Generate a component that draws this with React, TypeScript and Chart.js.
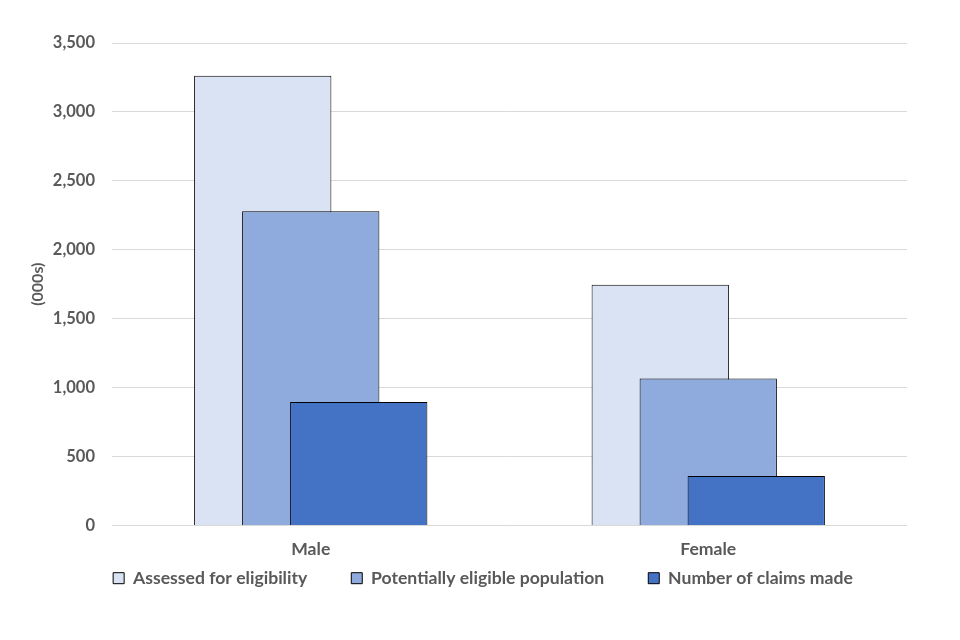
import React, { useEffect, useRef } from "react";
import { Chart, registerables } from "chart.js";

Chart.register(...registerables);

const categories = ["Male", "Female"];
const seriesNames = [
  "Assessed for eligibility",
  "Potentially eligible population",
  "Number of claims made",
];
const assessed = [3263, 1746];
const potentiallyEligible = [2280, 1065];
const claimsMade = [896, 359];
const seriesColors = ["#DAE3F3", "#8FAADC", "#4472C4"];
const yTicks = [0, 500, 1000, 1500, 2000, 2500, 3000, 3500];

const FONT = "Lato, 'Liberation Sans', sans-serif";
const TEXT = "#595959";

const drawOrderPlugin = {
  id: "drawOrder",
  beforeDatasetsDraw(chart: any) {
    const metas = chart.getSortedVisibleDatasetMetas();
    for (const m of metas) chart._drawDataset(m);
    return false;
  },
};

export default function App() {
  const ref = useRef<HTMLCanvasElement | null>(null);
  useEffect(() => {
    if (!ref.current) return;
    const values = [assessed, potentiallyEligible, claimsMade];
    const chart = new Chart(ref.current, {
      type: "bar",
      data: {
        labels: categories,
        datasets: seriesNames.map((name, i) => ({
          label: name,
          data: values[i],
          backgroundColor: seriesColors[i],
          borderColor: "#000000",
          borderWidth: 1,
          categoryPercentage: 0.3623,
          barPercentage: 2.86,
          yAxisID: "y",
        })),
      },
      options: {
        responsive: false,
        animation: false,
        devicePixelRatio: 1,
        layout: { padding: { left: 48, right: 42, top: 43, bottom: 43 } },
        plugins: {
          tooltip: { enabled: false },
          legend: {
            position: "bottom",
            labels: {
              boxWidth: 11,
              boxHeight: 11,
              padding: 44,
              color: TEXT,
              font: { family: FONT, size: 17.6, weight: "bold" },
            },
          },
        },
        scales: {
          x: {
            grid: { display: false, drawTicks: false },
            border: { display: false },
            ticks: {
              color: TEXT,
              mirror: true,
              padding: -34,
              z: 1,
              font: { family: FONT, size: 17.6, weight: "bold" },
            },
            afterFit: (s: any) => {
              s.height = 0;
            },
          },
          y: {
            min: 0,
            max: 3500,
            afterBuildTicks: (s: any) => {
              s.ticks = yTicks.map((v) => ({ value: v }));
            },
            grid: { color: "#D9D9D9", drawTicks: false, lineWidth: 1 },
            border: { display: false },
            ticks: {
              color: TEXT,
              padding: 17,
              font: { family: FONT, size: 16.5, weight: "bold" },
              callback: (v: any) => Number(v).toLocaleString("en-US"),
            },
            title: {
              display: true,
              text: "(000s)",
              color: TEXT,
              padding: { top: -19.6, bottom: 0 },
              font: { family: FONT, size: 16, weight: "bold" },
            },
            afterFit: (s: any) => {
              s.width = 64;
            },
          },
          yRight: {
            position: "right",
            display: true,
            min: 0,
            max: 3500,
            grid: { display: false, drawTicks: false },
            border: { display: false },
            ticks: { display: false },
            afterFit: (s: any) => {
              s.width = 11;
            },
          },
        },
      },
      plugins: [drawOrderPlugin],
    });
    return () => chart.destroy();
  }, []);
  return (
    <div style={{ position: "fixed", left: 0, top: 0, width: 960, height: 640, background: "#fff" }}>
      <canvas ref={ref} width={960} height={640} style={{ width: 960, height: 640 }} />
    </div>
  );
}
